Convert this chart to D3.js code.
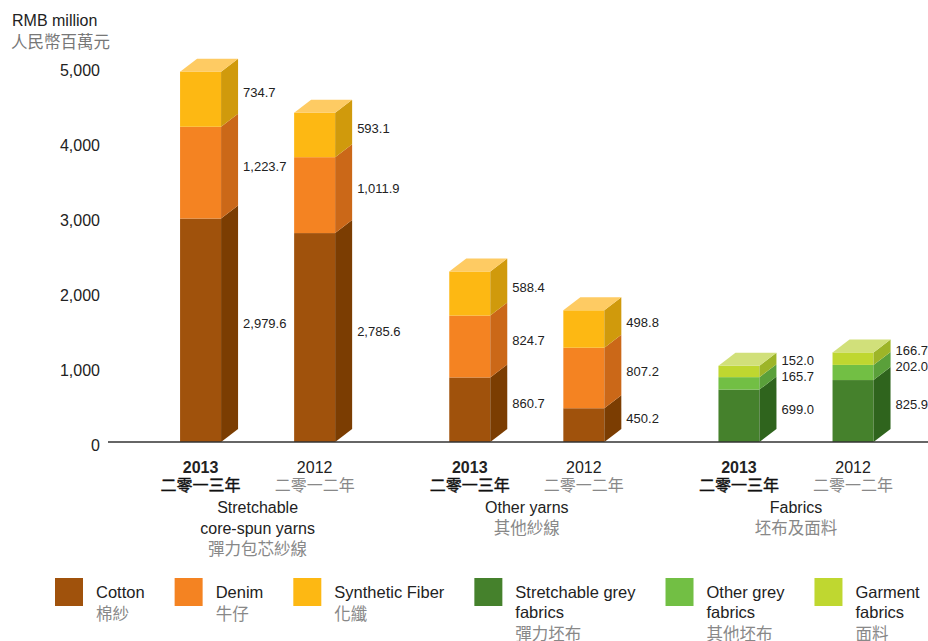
<!DOCTYPE html>
<html>
<head>
<meta charset="utf-8">
<script src="https://cdn.jsdelivr.net/npm/d3@7"></script>
<style>
  body { margin: 0; background: #fff; }
  text { font-family: "Liberation Sans", Arial, sans-serif; }
  text.zh { font-family: "Noto Sans CJK TC", "Noto Sans CJK SC", sans-serif; }
</style>
</head>
<body>
<script>
// ---- data ----
var groups = ["core", "other", "fabrics"];
var groupLabelsEn = [["Stretchable", "core-spun yarns"], ["Other yarns"], ["Fabrics"]];
var groupLabelsZh = ["彈力包芯紗線", "其他紗線", "坯布及面料"];
var years = ["2013", "2012"];
var yearLabelsZh = ["二零一三年", "二零一二年"];

// yarn bars: core 2013, core 2012, other 2013, other 2012
var cottonValues = [2979.6, 2785.6, 860.7, 450.2];
var denimValues = [1223.7, 1011.9, 824.7, 807.2];
var syntheticValues = [734.7, 593.1, 588.4, 498.8];
// fabric bars: 2013, 2012
var stretchGreyValues = [699.0, 825.9];
var otherGreyValues = [165.7, 202.0];
var garmentValues = [152.0, 166.7];

var yTicks = [0, 1000, 2000, 3000, 4000, 5000];

var legendEn = [["Cotton"], ["Denim"], ["Synthetic Fiber"], ["Stretchable grey", "fabrics"], ["Other grey", "fabrics"], ["Garment", "fabrics"]];
var legendZh = ["棉紗", "牛仔", "化纖", "彈力坯布", "其他坯布", "面料"];

var colors = {
  cotton:    { front: "#a0520c", side: "#7b3d02", top: "#c47a3a" },
  denim:     { front: "#f48322", side: "#cb6818", top: "#f9a85e" },
  synthetic: { front: "#fdb813", side: "#d09a0c", top: "#fecb63" },
  stretch:   { front: "#45812c", side: "#2f641d", top: "#6fa357" },
  othergrey: { front: "#72bf44", side: "#5aa03a", top: "#9ed27a" },
  garment:   { front: "#bfd730", side: "#9db528", top: "#d1e07a" }
};
var seriesKeys = ["cotton", "denim", "synthetic", "stretch", "othergrey", "garment"];

// build bars
var bars = [];
years.forEach(function (yr, j) {
  [0, 1].forEach(function (g) {
    var i = g * 2 + j;
    bars.push({ group: groups[g], year: yr, segments: [
      { key: "cotton", value: cottonValues[i] },
      { key: "denim", value: denimValues[i] },
      { key: "synthetic", value: syntheticValues[i] }
    ]});
  });
  bars.push({ group: "fabrics", year: yr, segments: [
    { key: "stretch", value: stretchGreyValues[j] },
    { key: "othergrey", value: otherGreyValues[j] },
    { key: "garment", value: garmentValues[j] }
  ]});
});

// ---- layout ----
var width = 928, height = 641;
var barWidth = 41, depthX = 17, depthY = 13;

var svg = d3.select("body").append("svg")
  .attr("width", width)
  .attr("height", height);

var y = d3.scaleLinear().domain([0, 5000]).range([442, 67]);
var xGroup = d3.scaleBand().domain(groups).range([123, 930.6]);
var xYear = d3.scalePoint().domain(years).range([0, xGroup.bandwidth()]).padding(0.68);
var fmt = d3.format(",.1f");

function barCenter(d) { return xGroup(d.group) + xYear(d.year); }

// unit title
svg.append("text").attr("x", 12).attr("y", 26)
  .attr("font-size", 16).attr("fill", "#222").text("RMB million");
svg.append("text").attr("class", "zh").attr("x", 11).attr("y", 48)
  .attr("font-size", 16.5).attr("fill", "#777").text("人民幣百萬元");

// y axis labels
var yAxis = d3.axisLeft(y).tickValues(yTicks).tickSize(0).tickPadding(0).tickFormat(d3.format(","));
var gy = svg.append("g").attr("transform", "translate(100,0)").call(yAxis);
gy.select(".domain").remove();
gy.selectAll("text")
  .attr("font-family", "Liberation Sans, Arial, sans-serif")
  .attr("font-size", 16).attr("fill", "#222").attr("dy", "0.5em");

// bars
bars.forEach(function (b) {
  var x0 = barCenter(b) - barWidth / 2;
  var x1 = x0 + barWidth;
  var cum = 0;
  var g = svg.append("g");
  var labels = [];
  b.segments.forEach(function (s, k) {
    var yb = y(cum), yt = y(cum + s.value);
    cum += s.value;
    var c = colors[s.key];
    g.append("rect")
      .attr("x", x0).attr("y", yt)
      .attr("width", barWidth).attr("height", yb - yt)
      .attr("fill", c.front);
    g.append("polygon")
      .attr("points", [[x1, yb], [x1 + depthX, yb - depthY], [x1 + depthX, yt - depthY], [x1, yt]].join(" "))
      .attr("fill", c.side);
    if (k === b.segments.length - 1) {
      g.append("polygon")
        .attr("points", [[x0, yt], [x0 + depthX, yt - depthY], [x1 + depthX, yt - depthY], [x1, yt]].join(" "))
        .attr("fill", c.top);
    }
    labels.push({ value: s.value, y: (yb + yt) / 2 - depthY / 2 });
  });
  // keep labels from overlapping, pushing upward
  for (var k = 1; k < labels.length; k++) {
    labels[k].y = Math.min(labels[k].y, labels[k - 1].y - 16);
  }
  labels.forEach(function (l) {
    g.append("text")
      .attr("x", x1 + depthX + 5).attr("y", l.y).attr("dy", "0.35em")
      .attr("font-size", 13).attr("fill", "#222")
      .text(fmt(l.value));
  });
});

// baseline
svg.append("line")
  .attr("x1", 108).attr("x2", width)
  .attr("y1", y(0)).attr("y2", y(0))
  .attr("stroke", "#333").attr("stroke-width", 1.5);

// year labels
bars.forEach(function (b) {
  var cx = barCenter(b);
  var is2013 = b.year === "2013";
  svg.append("text").attr("x", cx).attr("y", 473).attr("text-anchor", "middle")
    .attr("font-size", 16).attr("font-weight", is2013 ? "bold" : "normal")
    .attr("fill", "#222").text(b.year);
  svg.append("text").attr("class", "zh").attr("x", cx).attr("y", 491).attr("text-anchor", "middle")
    .attr("font-size", 16)
    .attr("fill", is2013 ? "#111" : "#888")
    .attr("stroke", is2013 ? "#111" : "none").attr("stroke-width", 0.4)
    .text(yearLabelsZh[years.indexOf(b.year)]);
});

// group labels
groups.forEach(function (gname, i) {
  var cx = xGroup(gname) + xGroup.bandwidth() / 2;
  groupLabelsEn[i].forEach(function (line, k) {
    svg.append("text").attr("x", cx).attr("y", 513 + k * 21).attr("text-anchor", "middle")
      .attr("font-size", 16).attr("fill", "#222").text(line);
  });
  svg.append("text").attr("class", "zh").attr("x", cx).attr("y", 513 + groupLabelsEn[i].length * 21)
    .attr("text-anchor", "middle").attr("font-size", 16.5).attr("fill", "#888").text(groupLabelsZh[i]);
});

// legend
var lx = 55;
seriesKeys.forEach(function (key, i) {
  var g = svg.append("g").attr("transform", "translate(" + lx + ",578)");
  g.append("rect").attr("width", 28).attr("height", 28).attr("fill", colors[key].front);
  var maxW = 0;
  legendEn[i].forEach(function (line, k) {
    var t = g.append("text").attr("x", 41).attr("y", 20 + k * 20)
      .attr("font-size", 16.5).attr("fill", "#222").text(line);
    maxW = Math.max(maxW, t.node().getComputedTextLength());
  });
  var z = g.append("text").attr("class", "zh").attr("x", 41).attr("y", 42 + (legendEn[i].length - 1) * 20)
    .attr("font-size", 16.5).attr("fill", "#888").text(legendZh[i]);
  maxW = Math.max(maxW, z.node().getComputedTextLength());
  lx += 41 + maxW + 30;
});
</script>
</body>
</html>
